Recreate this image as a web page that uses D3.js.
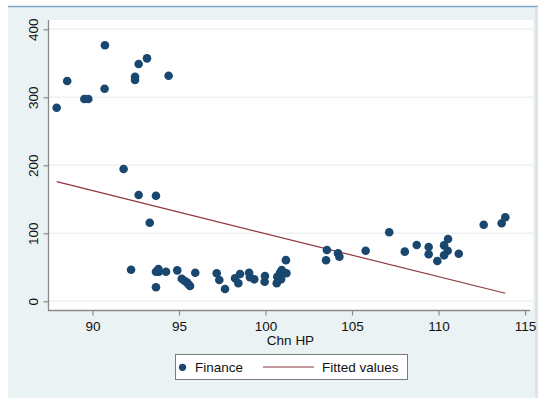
<!DOCTYPE html>
<html>
<head>
<meta charset="utf-8">
<script src="https://cdn.jsdelivr.net/npm/d3@7"></script>
<style>
  html, body { margin: 0; padding: 0; background: #ffffff; }
  svg { display: block; font-family: "Liberation Sans", Arial, sans-serif; }
</style>
</head>
<body>
<svg id="chart" width="538" height="398"></svg>
<script>
// Chn HP (x) against Finance (y)
const chnHP = [
  87.93, 88.54, 89.53, 89.76, 90.72, 90.70, 92.46, 92.46, 92.67, 93.15, 94.40,
  91.80, 92.67, 93.67, 93.31,
  92.23, 93.81, 93.67, 93.84, 94.25, 94.90, 93.67, 95.16, 95.31, 95.45, 95.64, 95.55, 95.94,
  97.18, 97.33, 97.66, 98.24, 98.43, 98.53, 99.05, 99.10, 99.35, 99.97, 99.95,
  100.65, 100.68, 100.84, 100.99, 101.18, 101.21, 100.90, 100.94,
  103.55, 103.50, 104.19, 104.27, 105.79, 107.15,
  108.05, 108.74, 109.43, 109.43, 109.93, 110.32, 110.32, 110.55, 110.53, 111.17,
  112.61, 113.65, 113.86
];
const finance = [
  284.7, 324.0, 297.5, 297.5, 376.5, 312.6, 330.3, 325.4, 349.0, 357.3, 331.8,
  194.6, 156.3, 155.3, 115.6,
  46.5, 47.5, 43.5, 43.5, 43.5, 45.5, 20.6, 33.2, 30.3, 27.9, 22.5, 25.0, 42.0,
  41.2, 31.3, 18.1, 33.8, 26.5, 40.1, 42.0, 35.3, 32.3, 37.2, 28.8,
  26.5, 36.2, 42.0, 40.1, 60.5, 41.2, 32.3, 46.0,
  75.4, 60.3, 70.6, 65.6, 74.4, 101.5,
  73.0, 82.8, 79.9, 69.1, 59.3, 82.3, 67.6, 91.6, 74.4, 70.0,
  112.6, 114.7, 123.5
];
// Linear fit endpoints (min and max of Chn HP)
const fittedX = [87.93, 113.86];
const fittedY = [175.9, 11.8];

const xTicks = [90, 95, 100, 105, 110, 115];
const yTicks = [0, 100, 200, 300, 400];
const legendLabels = ["Finance", "Fitted values"];

const navy = "#1a476f";
const maroon = "#90353b";
const bg = "#eaf2f3";

const svg = d3.select("#chart");

// outer graph region
svg.append("rect").attr("x", 8).attr("y", 6).attr("width", 530).attr("height", 392).attr("fill", bg);
svg.append("line").attr("x1", 8).attr("x2", 538).attr("y1", 6.5).attr("y2", 6.5)
  .attr("stroke", "#7ea6c9").attr("stroke-width", 1.5);
svg.append("rect").attr("x", 535).attr("y", 7).attr("width", 3).attr("height", 391).attr("fill", "#dde3e6");

const plot = { left: 48, right: 533, top: 20, bottom: 310 };
svg.append("rect")
  .attr("x", plot.left).attr("y", plot.top)
  .attr("width", plot.right - plot.left).attr("height", plot.bottom - plot.top)
  .attr("fill", "#ffffff");

const x = d3.scaleLinear().domain([87.43, 115.46]).range([plot.left, plot.right]);
const y = d3.scaleLinear().domain([-12.8, 413.7]).range([plot.bottom, plot.top]);

// horizontal grid
svg.append("g").selectAll("line").data(yTicks).join("line")
  .attr("x1", plot.left).attr("x2", plot.right)
  .attr("y1", d => y(d)).attr("y2", d => y(d))
  .attr("stroke", bg).attr("stroke-width", 1.5);

// axes
const xAxis = svg.append("g").attr("transform", `translate(0,${plot.bottom + 0.5})`)
  .call(d3.axisBottom(x).tickValues(xTicks).tickSize(5).tickSizeOuter(0).tickPadding(6));
const yAxis = svg.append("g").attr("transform", `translate(${plot.left + 0.5},0)`)
  .call(d3.axisLeft(y).tickValues(yTicks).tickSize(5).tickSizeOuter(0).tickPadding(6));

[xAxis, yAxis].forEach(g => {
  g.select(".domain").attr("stroke", "#8a8a8a").attr("stroke-width", 1.3);
  g.selectAll(".tick line").attr("stroke", "#8a8a8a").attr("stroke-width", 1.2);
  g.selectAll(".tick text").attr("fill", "#111").style("font-size", "13.5px")
    .style("font-family", "'Liberation Sans', Arial, sans-serif");
});
xAxis.select(".domain").attr("d", `M${plot.left},0H${plot.right - 3}`);
yAxis.select(".domain").attr("d", `M0,${plot.top}V${plot.bottom}`);

yAxis.selectAll(".tick text")
  .attr("x", 0).attr("dy", 0)
  .attr("text-anchor", "middle")
  .attr("transform", "translate(-11,0) rotate(-90)");

// axis title, centred on the plot region
svg.append("text").attr("x", (plot.left + plot.right) / 2).attr("y", 345)
  .attr("text-anchor", "middle").attr("fill", "#111").style("font-size", "13.5px")
  .text("Chn HP");

// fitted line
svg.append("path")
  .datum(fittedX.map((v, i) => [v, fittedY[i]]))
  .attr("fill", "none").attr("stroke", maroon).attr("stroke-width", 1.2)
  .attr("d", d3.line().x(d => x(d[0])).y(d => y(d[1])));

// scatter
svg.append("g").selectAll("circle").data(chnHP.map((v, i) => [v, finance[i]])).join("circle")
  .attr("cx", d => x(d[0])).attr("cy", d => y(d[1])).attr("r", 4.3)
  .attr("fill", navy);

// legend
const lg = svg.append("g");
lg.append("rect").attr("x", 175.5).attr("y", 354.5).attr("width", 232).attr("height", 25)
  .attr("fill", "#ffffff").attr("stroke", "#7a7a7a").attr("stroke-width", 1);
lg.append("circle").attr("cx", 182.5).attr("cy", 367.3).attr("r", 3.6).attr("fill", navy);
lg.append("text").attr("x", 195).attr("y", 372).attr("fill", "#111").style("font-size", "13.5px")
  .text(legendLabels[0]);
lg.append("line").attr("x1", 263).attr("x2", 314).attr("y1", 367).attr("y2", 367)
  .attr("stroke", maroon).attr("stroke-width", 1.2);
lg.append("text").attr("x", 322).attr("y", 372).attr("fill", "#111").style("font-size", "13.5px")
  .text(legendLabels[1]);
</script>
</body>
</html>
